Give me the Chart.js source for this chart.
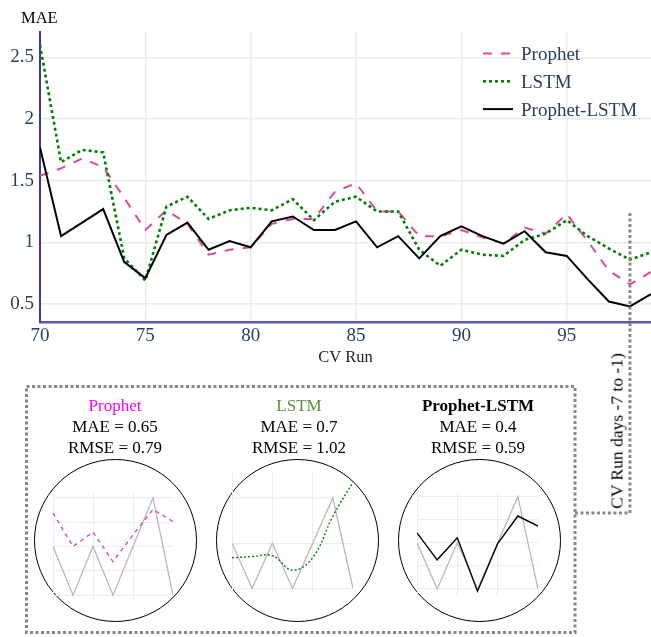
<!DOCTYPE html>
<html>
<head>
<meta charset="utf-8">
<title>MAE per CV run</title>
<script src="https://cdn.jsdelivr.net/npm/chart.js@4.4.0/dist/chart.umd.min.js"></script>
<style>
  body { margin: 0; background: #fff; font-family: "Liberation Serif", "Times New Roman", serif; }
  #page { position: relative; width: 651px; height: 637px; overflow: hidden; }
  canvas { position: absolute; }
  .txt { position: absolute; white-space: nowrap; color: #000; }
  .circle { position: absolute; width: 163px; height: 163px; border: 1.6px solid #000; border-radius: 50%; box-sizing: border-box; }
  .stats { position: absolute; width: 200px; text-align: center; font-size: 17px; line-height: 20.8px; color: #000; }
</style>
</head>
<body>
<div id="page">
  <canvas id="mainChart" width="651" height="637" style="left:0;top:0"></canvas>

  <div class="txt" style="left:21px;top:8px;font-size:16.5px">MAE</div>

  <div class="circle" style="left:34px;top:459px"></div>
  <div class="circle" style="left:216px;top:459px"></div>
  <div class="circle" style="left:398px;top:459px"></div>

  <canvas id="miniProphet" width="120" height="107" style="left:53px;top:493px"></canvas>
  <canvas id="miniLstm" width="121" height="120" style="left:232px;top:473px"></canvas>
  <canvas id="miniHybrid" width="121" height="105" style="left:417px;top:492px"></canvas>

  <div class="stats" style="left:15px;top:396px">
    <div style="color:#ff00ff">Prophet</div>
    <div>MAE = 0.65</div>
    <div>RMSE = 0.79</div>
  </div>
  <div class="stats" style="left:199px;top:396px">
    <div style="color:#5b8f3e">LSTM</div>
    <div>MAE = 0.7</div>
    <div>RMSE = 1.02</div>
  </div>
  <div class="stats" style="left:378px;top:396px">
    <div style="font-weight:bold">Prophet-LSTM</div>
    <div>MAE = 0.4</div>
    <div>RMSE = 0.59</div>
  </div>

  <div class="txt" style="left:617px;top:431px;font-size:17.5px;transform:translate(-50%,-50%) rotate(-90deg)">CV Run days -7 to -1)</div>
</div>

<script>
  // MAE for each cross-validation run
  var cvRuns = [70,71,72,73,74,75,76,77,78,79,80,81,82,83,84,85,86,87,88,89,90,91,92,93,94,95,96,97,98,99];
  var prophetMae = [1.54,1.60,1.68,1.61,1.36,1.10,1.26,1.15,0.90,0.94,0.96,1.15,1.19,1.19,1.41,1.48,1.25,1.25,1.05,1.05,1.10,1.04,0.99,1.12,1.07,1.23,1.01,0.77,0.66,0.76];
  var lstmMae = [2.60,1.65,1.75,1.73,0.87,0.69,1.29,1.37,1.19,1.26,1.28,1.26,1.35,1.18,1.33,1.37,1.25,1.25,0.94,0.81,0.94,0.90,0.89,1.02,1.07,1.18,1.05,0.95,0.86,0.92];
  var hybridMae = [1.77,1.05,1.16,1.27,0.84,0.71,1.06,1.16,0.94,1.01,0.96,1.17,1.21,1.10,1.10,1.17,0.96,1.05,0.87,1.05,1.13,1.05,0.99,1.09,0.92,0.89,0.70,0.52,0.48,0.58];
  var windowStartRun = 98;

  // last 7 days of the final run (zoomed insets)
  var miniDays = [1,2,3,4,5,6,7];
  var miniActual = [2,0,2,0,2,4,0];
  var miniProphet = [3.38,2.00,2.59,1.38,2.48,3.52,3.03];
  var miniLstm = [1.36,1.41,1.45,0.81,1.36,3.19,4.70];
  var miniHybrid = [2.43,1.26,2.22,-0.10,1.96,3.16,2.72];

  var tickColor = '#2a3f5f';
  var gridColor = '#ebebeb';

  function toPoints(xs, ys) {
    return xs.map(function (x, i) { return { x: x, y: ys[i] }; });
  }

  // legend drawn inside the plot, top right
  var legendBox = {
    id: 'legendBox',
    afterDraw: function (chart) {
      var ctx = chart.ctx;
      chart.data.datasets.forEach(function (ds, i) {
        var y = 53.5 + i * 27.8;
        ctx.save();
        ctx.strokeStyle = ds.borderColor;
        ctx.lineWidth = ds.borderWidth;
        ctx.setLineDash(ds.borderDash || []);
        ctx.beginPath();
        ctx.moveTo(483, y);
        ctx.lineTo(513, y);
        ctx.stroke();
        ctx.fillStyle = tickColor;
        ctx.font = '19px "Liberation Serif"';
        ctx.textBaseline = 'middle';
        ctx.fillText(ds.label, 521, y + 1.5);
        ctx.restore();
      });
    }
  };

  // dotted marker for the last week + frame around the insets
  var cvWindow = {
    id: 'cvWindow',
    afterDraw: function (chart) {
      var ctx = chart.ctx;
      var x = chart.scales.x.getPixelForValue(windowStartRun);
      ctx.save();
      ctx.strokeStyle = '#888';
      ctx.lineWidth = 3;
      ctx.setLineDash([3, 2.5]);
      ctx.beginPath();
      ctx.moveTo(x, 213);
      ctx.lineTo(x, 513);
      ctx.lineTo(575, 513);
      ctx.stroke();
      ctx.strokeRect(26.5, 386.5, 548.5, 246);
      ctx.restore();
    }
  };

  new Chart(document.getElementById('mainChart'), {
    type: 'line',
    data: {
      datasets: [
        { label: 'Prophet', data: toPoints(cvRuns, prophetMae), borderColor: '#de4a9b', borderWidth: 2, borderDash: [9, 9], order: 3 },
        { label: 'LSTM', data: toPoints(cvRuns, lstmMae), borderColor: '#008000', borderWidth: 2.6, borderDash: [3, 3], order: 2 },
        { label: 'Prophet-LSTM', data: toPoints(cvRuns, hybridMae), borderColor: '#000000', borderWidth: 2, order: 1 }
      ]
    },
    options: {
      responsive: false,
      animation: false,
      layout: { padding: { top: 32, bottom: 269, left: 0, right: 0 } },
      elements: { point: { radius: 0 }, line: { tension: 0 } },
      plugins: { legend: { display: false }, tooltip: { enabled: false } },
      scales: {
        x: {
          type: 'linear', min: 70, max: 99,
          grid: { color: gridColor, lineWidth: 1.5, drawTicks: false },
          border: { color: '#5b5baa', width: 2.5 },
          ticks: { stepSize: 5, includeBounds: false, padding: 3, color: tickColor, font: { family: 'Liberation Serif', size: 19 } },
          title: { display: true, text: 'CV Run', color: '#222', padding: { top: 0, bottom: 0 }, font: { family: 'Liberation Serif', size: 16.5 } },
          afterFit: function (scale) { scale.height = 46; }
        },
        y: {
          min: 0.354, max: 2.706,
          grid: { color: gridColor, lineWidth: 1.5, drawTicks: false },
          border: { color: '#3a3a9e', width: 2 },
          ticks: {
            stepSize: 0.5, includeBounds: false, padding: 6, color: tickColor,
            font: { family: 'Liberation Serif', size: 19 },
            callback: function (v) { return String(v); }
          },
          afterFit: function (scale) { scale.width = 40; }
        }
      }
    },
    plugins: [legendBox, cvWindow]
  });

  function miniChart(id, series, color, dash, yMin, yMax, yStep, tension) {
    new Chart(document.getElementById(id), {
      type: 'line',
      data: {
        datasets: [
          { data: toPoints(miniDays, series), borderColor: color, borderWidth: 1.4, borderDash: dash, tension: tension },
          { data: toPoints(miniDays, miniActual), borderColor: '#b8b8b8', borderWidth: 1.3 }
        ]
      },
      options: {
        responsive: false,
        animation: false,
        layout: { padding: 0 },
        elements: { point: { radius: 0 } },
        plugins: { legend: { display: false }, tooltip: { enabled: false } },
        scales: {
          x: {
            type: 'linear', min: 1, max: 7,
            grid: { color: '#ececec', lineWidth: 1, drawTicks: false },
            border: { display: false },
            ticks: { display: false, stepSize: 2 }
          },
          y: {
            min: yMin, max: yMax,
            grid: { color: '#ececec', lineWidth: 1, drawTicks: false },
            border: { display: false },
            ticks: { display: false, stepSize: yStep, includeBounds: false }
          }
        }
      }
    });
  }

  miniChart('miniProphet', miniProphet, '#de4a9b', [4, 4], -0.2, 4.2, 1, 0);
  miniChart('miniLstm', miniLstm, '#008000', [2, 2], -0.2, 5.1, 2, 0.4);
  miniChart('miniHybrid', miniHybrid, '#000000', [], -0.35, 4.2, 1, 0);
</script>
</body>
</html>
